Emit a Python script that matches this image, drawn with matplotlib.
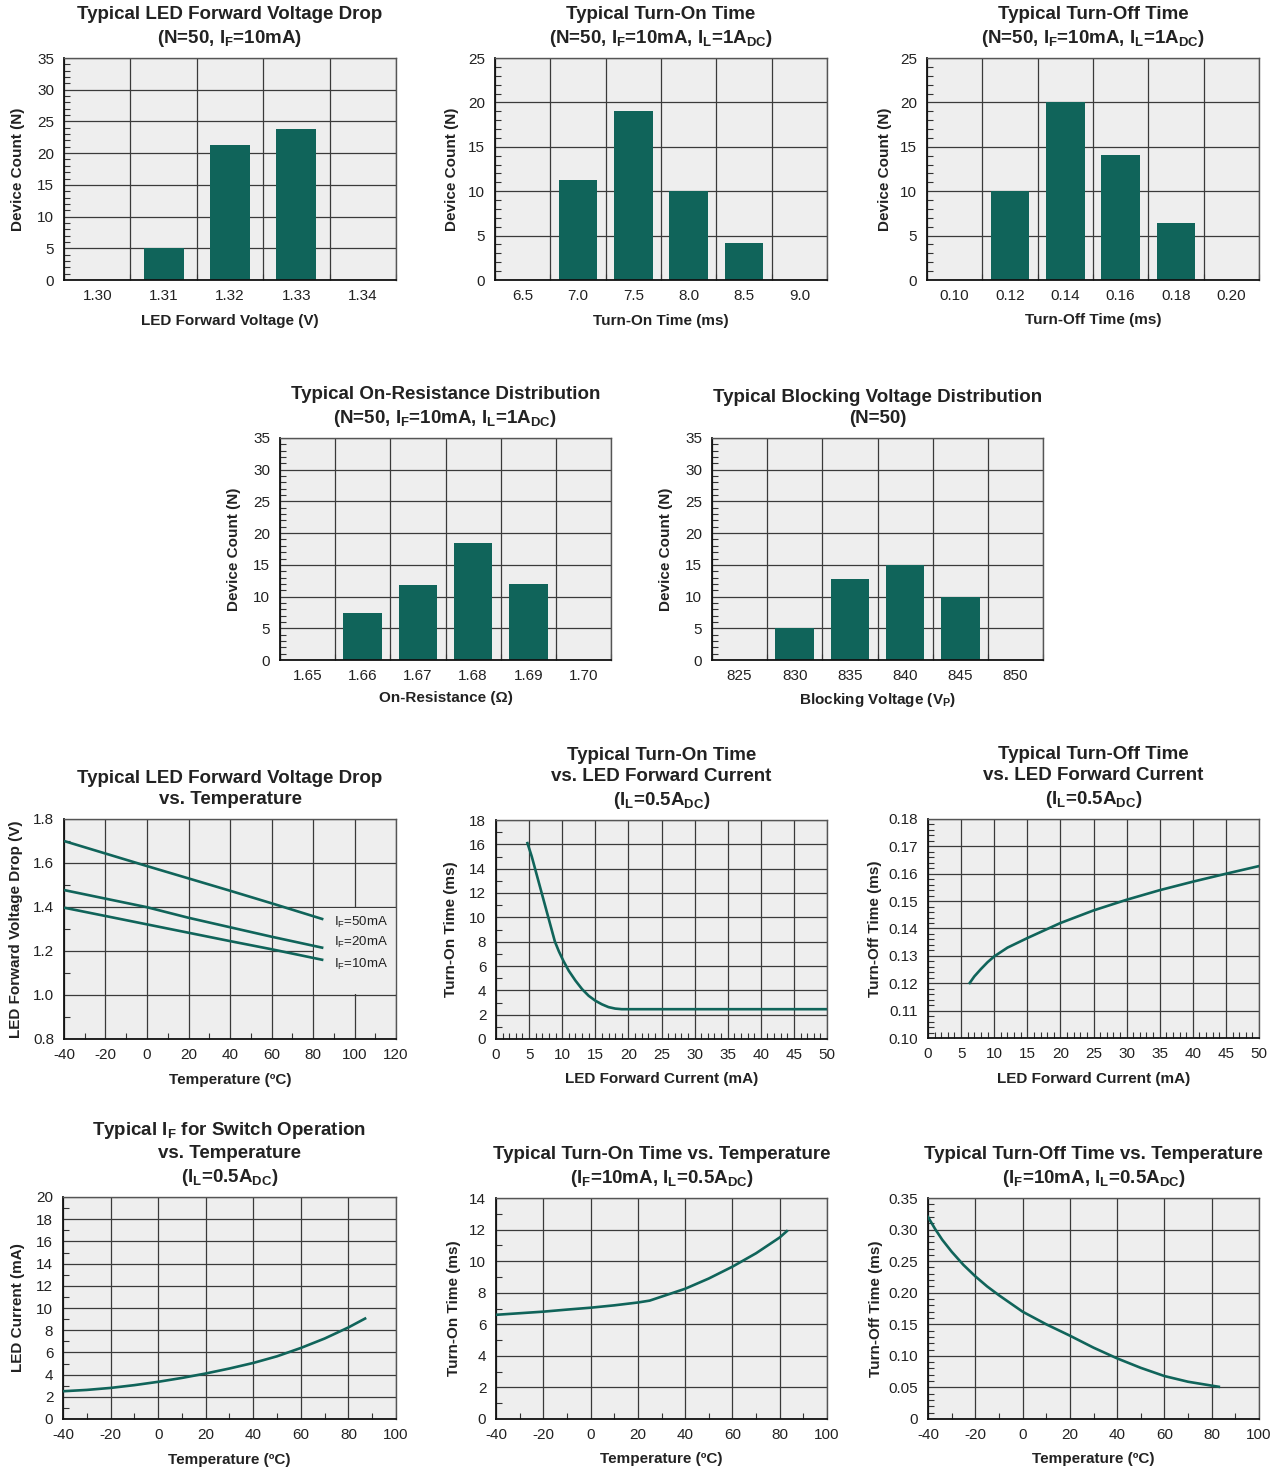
import numpy as np
import matplotlib
matplotlib.use('Agg')
import matplotlib.pyplot as plt
from matplotlib.ticker import MultipleLocator, FormatStrFormatter
from matplotlib.patches import Rectangle

plt.rcParams['font.family'] = ['Liberation Sans', 'DejaVu Sans']
plt.rcParams['mathtext.fontset'] = 'custom'
plt.rcParams['mathtext.rm'] = 'Liberation Sans'
plt.rcParams['mathtext.bf'] = 'Liberation Sans:bold'
plt.rcParams['mathtext.it'] = 'Liberation Sans:italic'
plt.rcParams['mathtext.sf'] = 'Liberation Sans'
plt.rcParams['axes.unicode_minus'] = False

# ---------------- data ----------------
vf_cats = ['1.30', '1.31', '1.32', '1.33', '1.34']
vf_counts = [0, 5.0, 21.3, 23.8, 0]

ton_cats = ['6.5', '7.0', '7.5', '8.0', '8.5', '9.0']
ton_counts = [0, 11.3, 19.0, 10.0, 4.2, 0]

toff_cats = ['0.10', '0.12', '0.14', '0.16', '0.18', '0.20']
toff_counts = [0, 10.0, 20.0, 14.1, 6.4, 0]

ron_cats = ['1.65', '1.66', '1.67', '1.68', '1.69', '1.70']
ron_counts = [0, 7.4, 11.8, 18.5, 12.0, 0]

vb_cats = ['825', '830', '835', '840', '845', '850']
vb_counts = [0, 5.0, 12.8, 15.0, 10.0, 0]

vft_temp = [-40, 0, 20, 40, 60, 85]
vft_50ma = [1.70, 1.586, 1.530, 1.474, 1.417, 1.344]
vft_20ma = [1.477, 1.399, 1.351, 1.308, 1.265, 1.214]
vft_10ma = [1.397, 1.321, 1.283, 1.245, 1.208, 1.159]
vft_labels = ['50mA', '20mA', '10mA']

tonif_if = [4.75, 5.4, 5.9, 6.4, 6.9, 7.4, 7.9, 8.4, 8.9, 9.5, 10.2, 11, 12, 13, 14, 15, 16, 17, 18, 19, 20, 50]
tonif_t = [16.1, 15.0, 14.0, 13.0, 12.0, 11.0, 10.0, 9.0, 8.0, 7.2, 6.4, 5.6, 4.8, 4.1, 3.55, 3.15, 2.85, 2.62, 2.5, 2.45, 2.45, 2.45]

toffif_if = [6.3, 7, 8, 9, 10, 12, 15, 20, 25, 30, 35, 40, 45, 50]
toffif_t = [0.1201, 0.1225, 0.1252, 0.1277, 0.1298, 0.1330, 0.1365, 0.1420, 0.1466, 0.1505, 0.1540, 0.1571, 0.1600, 0.1628]

ift_temp = [-40, -30, -20, -10, 0, 10, 20, 30, 40, 50, 60, 70, 80, 87]
ift_ma = [2.5, 2.62, 2.8, 3.05, 3.35, 3.7, 4.1, 4.55, 5.05, 5.65, 6.4, 7.25, 8.25, 9.05]

tont_temp = [-40, -30, -20, -10, 0, 10, 20, 25, 30, 35, 40, 50, 60, 70, 80, 83]
tont_ms = [6.6, 6.7, 6.8, 6.93, 7.05, 7.2, 7.38, 7.5, 7.75, 8.0, 8.25, 8.9, 9.65, 10.5, 11.5, 11.9]

tofft_temp = [-40, -37, -34, -30, -25, -20, -15, -10, -5, 0, 10, 20, 30, 40, 50, 60, 70, 83]
tofft_ms = [0.320, 0.301, 0.284, 0.265, 0.244, 0.226, 0.210, 0.196, 0.183, 0.170, 0.150, 0.132, 0.113, 0.096, 0.081, 0.068, 0.059, 0.051]
tofft_yticklabels = ['0', '0.05', '0.10', '0.15', '0.20', '0.25', '0.30', '0.35']

# ---------------- style ----------------
TEAL = '#10645a'
BG = '#eeeeee'
GRID = '#3a3a3a'
TXT = '#222222'
LW = 1.9
W, H = 1270, 1468

fig = plt.figure(figsize=(W / 100, H / 100), dpi=100)


def make_ax(box):
    x0, y0, x1, y1 = box
    ax = fig.add_axes([x0 / W, 1 - y1 / H, (x1 - x0) / W, (y1 - y0) / H])
    ax._pxw = x1 - x0
    ax._pxh = y1 - y0
    return ax


def style(ax, title, xlab, ylab, ylab_dx, xlab_dy, tpad=11):
    ax.set_facecolor(BG)
    ax.set_axisbelow(True)
    for s in ax.spines.values():
        s.set_color('#555555')
        s.set_linewidth(1.0)
    for s in ('left', 'bottom'):
        ax.spines[s].set_color('#111111')
        ax.spines[s].set_linewidth(1.3)
    ax.tick_params(which='major', length=0, labelsize=11, labelcolor=TXT)
    ax.tick_params(axis='x', which='major', pad=6.5)
    ax.tick_params(axis='y', which='major', pad=7)
    ax.tick_params(which='minor', direction='in', length=4, width=0.8, color='#333333')
    ax.set_title(title, fontsize=13.5, fontweight='bold', color=TXT, pad=tpad, linespacing=1.32)
    ax.set_ylabel(ylab, fontsize=11, fontweight='bold', color=TXT)
    ax.yaxis.set_label_coords(ylab_dx / ax._pxw, 0.5)
    ax.set_xlabel(xlab, fontsize=11, fontweight='bold', color=TXT)
    ax.xaxis.set_label_coords(0.5, -xlab_dy / ax._pxh)


def bar_panel(box, cats, counts, ymax, width, title, xlab, ylab_dx, xlab_dy):
    ax = make_ax(box)
    n = len(cats)
    pos = np.arange(n)
    ax.bar(pos, counts, width=width, color=TEAL, zorder=2)
    ax.set_xlim(-0.5, n - 0.5)
    ax.set_ylim(0, ymax)
    ax.set_xticks(pos)
    ax.set_xticklabels(cats)
    ax.set_xticks(np.arange(n + 1) - 0.5, minor=True)
    ax.yaxis.set_major_locator(MultipleLocator(5))
    ax.yaxis.set_minor_locator(MultipleLocator(1))
    ax.grid(True, axis='y', which='major', color=GRID, lw=0.9)
    ax.grid(True, axis='x', which='minor', color=GRID, lw=0.9)
    ax.tick_params(axis='x', which='minor', length=0)
    style(ax, title, xlab, 'Device Count (N)', ylab_dx, xlab_dy)
    return ax


def line_panel(box, xlim, ylim, xmaj, xmin, ymaj, ymin, title, xlab, ylab, ylab_dx, xlab_dy, tpad=11):
    ax = make_ax(box)
    ax.set_xlim(*xlim)
    ax.set_ylim(*ylim)
    ax.xaxis.set_major_locator(MultipleLocator(xmaj))
    ax.xaxis.set_minor_locator(MultipleLocator(xmin))
    ax.yaxis.set_major_locator(MultipleLocator(ymaj))
    ax.yaxis.set_minor_locator(MultipleLocator(ymin))
    ax.grid(True, which='major', color=GRID, lw=0.9)
    style(ax, title, xlab, ylab, ylab_dx, xlab_dy, tpad)
    return ax


T_DEG = 'Temperature (ºC)'

# Row 1
bar_panel((64, 58, 396, 280), vf_cats, vf_counts, 35, 0.6,
          'Typical LED Forward Voltage Drop\n(N=50, $\\mathbf{I_F}$=10mA)',
          'LED Forward Voltage (V)', -39, 34)
bar_panel((495, 58, 827, 280), ton_cats, ton_counts, 25, 0.7,
          'Typical Turn-On Time\n(N=50, $\\mathbf{I_F}$=10mA, $\\mathbf{I_L}$=1$\\mathbf{A_{DC}}$)',
          'Turn-On Time (ms)', -36, 34)
bar_panel((927, 58, 1259, 280), toff_cats, toff_counts, 25, 0.7,
          'Typical Turn-Off Time\n(N=50, $\\mathbf{I_F}$=10mA, $\\mathbf{I_L}$=1$\\mathbf{A_{DC}}$)',
          'Turn-Off Time (ms)', -35, 33)

# Row 2
bar_panel((280, 438, 611, 660), ron_cats, ron_counts, 35, 0.7,
          'Typical On-Resistance Distribution\n(N=50, $\\mathbf{I_F}$=10mA, $\\mathbf{I_L}$=1$\\mathbf{A_{DC}}$)',
          'On-Resistance (Ω)', -39, 31)
bar_panel((712, 438, 1043, 660), vb_cats, vb_counts, 35, 0.7,
          'Typical Blocking Voltage Distribution\n(N=50)',
          'Blocking Voltage ($\\mathbf{V_P}$)', -39, 31)

# Row 3
axF = line_panel((64, 819, 396, 1039), (-40, 120), (0.8, 1.8), 20, 10, 0.2, 0.1,
                 'Typical LED Forward Voltage Drop\nvs. Temperature', T_DEG,
                 'LED Forward Voltage Drop (V)', -41, 34)
axF.yaxis.set_major_formatter(FormatStrFormatter('%.1f'))
axF.add_patch(Rectangle((80.6, 1.004), 40, 0.392, facecolor=BG, edgecolor='none', zorder=1))
for yv, lab in zip([vft_50ma, vft_20ma, vft_10ma], vft_labels):
    axF.plot(vft_temp, yv, color=TEAL, lw=LW, zorder=3, solid_capstyle='butt')
for yl, lab in zip([1.329, 1.238, 1.141], vft_labels):
    axF.text(90, yl, '$\\mathregular{I_F}$=' + lab, fontsize=9.5, color=TXT, va='center', ha='left', zorder=4)

axG = line_panel((496, 820, 827, 1039), (0, 50), (0, 18), 5, 1, 2, 1,
                 'Typical Turn-On Time\nvs. LED Forward Current\n($\\mathbf{I_L}$=0.5$\\mathbf{A_{DC}}$)',
                 'LED Forward Current (mA)', 'Turn-On Time (ms)', -38, 33)
axG.plot(tonif_if, tonif_t, color=TEAL, lw=LW, zorder=3)

axH = line_panel((928, 819, 1259, 1038), (0, 50), (0.10, 0.18), 5, 1, 0.01, 0.002,
                 'Typical Turn-Off Time\nvs. LED Forward Current\n($\\mathbf{I_L}$=0.5$\\mathbf{A_{DC}}$)',
                 'LED Forward Current (mA)', 'Turn-Off Time (ms)', -46, 34)
axH.yaxis.set_major_formatter(FormatStrFormatter('%.2f'))
axH.plot(toffif_if, toffif_t, color=TEAL, lw=LW, zorder=3)

# Row 4
axI = line_panel((63, 1197, 396, 1419), (-40, 100), (0, 20), 20, 10, 2, 1,
                 'Typical $\\mathbf{I_F}$ for Switch Operation\nvs. Temperature\n($\\mathbf{I_L}$=0.5$\\mathbf{A_{DC}}$)',
                 T_DEG, 'LED Current (mA)', -38, 34)
axI.plot(ift_temp, ift_ma, color=TEAL, lw=LW, zorder=3)

axJ = line_panel((496, 1198, 827, 1419), (-40, 100), (0, 14), 20, 10, 2, 1,
                 'Typical Turn-On Time vs. Temperature\n($\\mathbf{I_F}$=10mA, $\\mathbf{I_L}$=0.5$\\mathbf{A_{DC}}$)',
                 T_DEG, 'Turn-On Time (ms)', -35, 33)
axJ.plot(tont_temp, tont_ms, color=TEAL, lw=LW, zorder=3)

axK = line_panel((928, 1198, 1259, 1419), (-40, 100), (0, 0.35), 20, 10, 0.05, 0.01,
                 'Typical Turn-Off Time vs. Temperature\n($\\mathbf{I_F}$=10mA, $\\mathbf{I_L}$=0.5$\\mathbf{A_{DC}}$)',
                 T_DEG, 'Turn-Off Time (ms)', -45, 33)
axK.set_yticks(np.arange(len(tofft_yticklabels)) * 0.05)
axK.set_yticklabels(tofft_yticklabels)
axK.plot(tofft_temp, tofft_ms, color=TEAL, lw=LW, zorder=3)

fig.savefig('out.png', dpi=100, facecolor='white')
